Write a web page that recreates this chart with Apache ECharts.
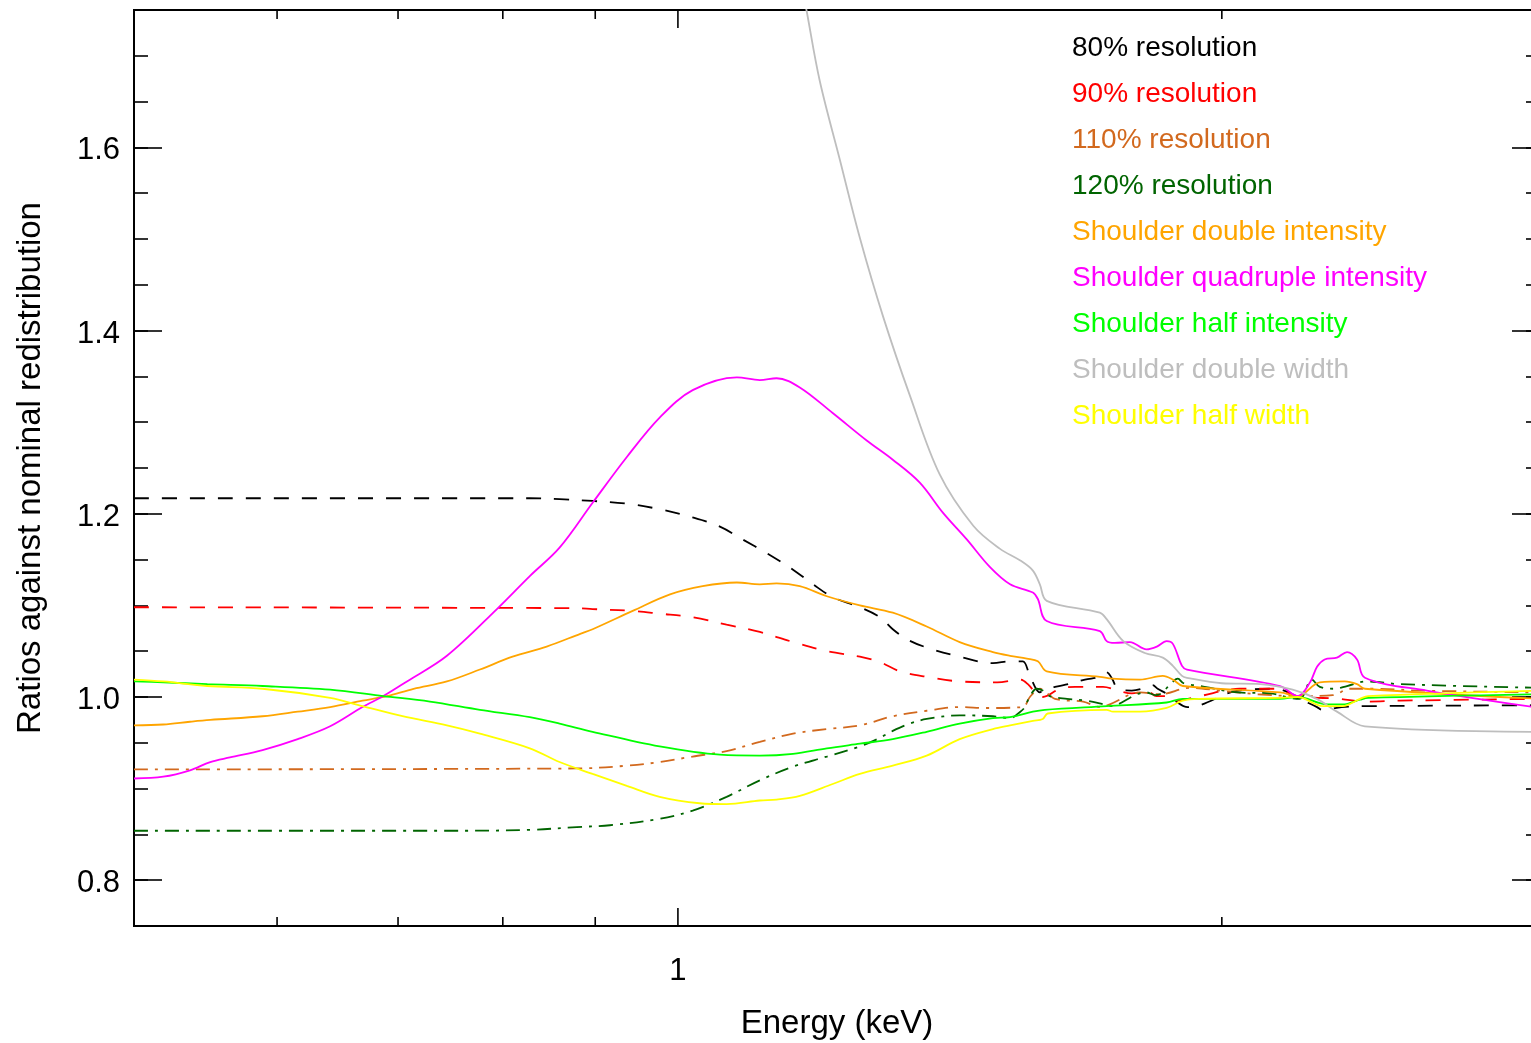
<!DOCTYPE html>
<html>
<head>
<meta charset="utf-8">
<title>Ratios against nominal redistribution</title>
<script src="https://cdn.jsdelivr.net/npm/echarts@6/dist/echarts.min.js"></script>
<style>
  html, body { margin: 0; padding: 0; background: #ffffff; }
  #chart { width: 1531px; height: 1043px; }
</style>
</head>
<body>
<div id="chart"></div>
<script>
// [energy keV, ratio] pairs for each redistribution variant
const res80 = [[0.5,1.217],[0.828,1.217],[0.86,1.216],[0.897,1.214],[0.937,1.211],[0.977,1.205],[1.019,1.196],[1.055,1.186],[1.086,1.172],[1.12,1.157],[1.158,1.139],[1.188,1.123],[1.218,1.109],[1.261,1.098],[1.294,1.087],[1.315,1.074],[1.339,1.063],[1.373,1.054],[1.432,1.044],[1.494,1.037],[1.527,1.039],[1.552,1.039],[1.566,1.023],[1.586,1.005],[1.596,1.009],[1.617,1.011],[1.652,1.015],[1.68,1.019],[1.712,1.022],[1.727,1.027],[1.739,1.020],[1.752,1.009],[1.783,1.007],[1.82,1.011],[1.831,1.013],[1.843,1.009],[1.866,1.003],[1.884,0.996],[1.915,0.989],[1.945,0.991],[2.042,1.007],[2.14,1.009],[2.189,1.003],[2.209,0.998],[2.258,0.989],[2.272,0.986],[2.33,0.989],[2.4,0.99],[3.0,0.991]];

const res90 = [[0.5,1.098],[0.879,1.097],[0.897,1.096],[0.944,1.094],[0.977,1.091],[1.019,1.087],[1.064,1.079],[1.11,1.071],[1.158,1.06],[1.209,1.05],[1.261,1.044],[1.294,1.038],[1.327,1.028],[1.373,1.022],[1.432,1.017],[1.502,1.016],[1.547,1.019],[1.562,1.014],[1.58,1.003],[1.592,1.0],[1.627,1.009],[1.659,1.011],[1.719,1.011],[1.752,1.007],[1.783,1.004],[1.82,1.006],[1.84,1.001],[1.871,1.001],[1.889,0.996],[1.945,1.001],[2.046,1.009],[2.14,1.009],[2.203,1.001],[2.324,0.998],[2.4,0.995],[2.51,0.996],[3.0,0.998]];

const res110 = [[0.5,0.921],[0.879,0.922],[0.937,0.925],[0.977,0.929],[1.019,0.935],[1.064,0.941],[1.11,0.951],[1.158,0.96],[1.209,0.965],[1.261,0.969],[1.315,0.979],[1.373,0.985],[1.432,0.989],[1.483,0.988],[1.552,0.989],[1.566,1.0],[1.586,1.009],[1.617,0.998],[1.676,0.995],[1.712,0.989],[1.734,0.992],[1.802,1.005],[1.848,1.003],[1.92,1.01],[1.995,1.007],[2.094,1.003],[2.203,1.001],[2.304,1.002],[2.355,1.009],[2.431,1.009],[2.574,1.007],[3.0,1.005]];

const res120 = [[0.5,0.854],[0.76,0.854],[0.828,0.855],[0.879,0.858],[0.917,0.86],[0.977,0.867],[1.019,0.876],[1.064,0.891],[1.11,0.909],[1.158,0.924],[1.209,0.935],[1.261,0.946],[1.289,0.954],[1.315,0.963],[1.344,0.971],[1.373,0.976],[1.432,0.98],[1.494,0.979],[1.527,0.977],[1.547,0.984],[1.556,0.989],[1.566,1.001],[1.58,1.009],[1.592,1.007],[1.606,1.001],[1.642,0.998],[1.684,0.996],[1.719,0.992],[1.734,0.99],[1.795,1.003],[1.817,1.005],[1.837,1.002],[1.852,1.004],[1.871,1.013],[1.891,1.02],[1.905,1.015],[1.945,1.012],[2.042,1.005],[2.127,1.004],[2.182,0.999],[2.209,0.998],[2.243,1.019],[2.266,1.011],[2.31,1.009],[2.346,1.012],[2.406,1.017],[2.51,1.014],[3.0,1.01]];

const shoulderDoubleIntensity = [[0.5,0.969],[0.519,0.97],[0.537,0.973],[0.551,0.975],[0.589,0.979],[0.616,0.984],[0.642,0.989],[0.669,0.996],[0.69,1.001],[0.714,1.009],[0.745,1.017],[0.777,1.03],[0.81,1.044],[0.846,1.055],[0.883,1.069],[0.897,1.074],[0.944,1.094],[0.99,1.112],[1.032,1.121],[1.078,1.125],[1.11,1.123],[1.134,1.124],[1.168,1.121],[1.209,1.11],[1.261,1.1],[1.315,1.092],[1.373,1.077],[1.432,1.06],[1.494,1.049],[1.527,1.045],[1.56,1.042],[1.582,1.039],[1.6,1.028],[1.712,1.022],[1.739,1.02],[1.802,1.019],[1.855,1.023],[1.879,1.019],[1.903,1.012],[2.154,1.005],[2.203,1.001],[2.266,1.016],[2.339,1.017],[2.376,1.014],[2.4,1.009],[3.0,0.998]];

const shoulderQuadrupleIntensity = [[0.5,0.911],[0.519,0.913],[0.537,0.92],[0.551,0.929],[0.565,0.934],[0.589,0.942],[0.616,0.954],[0.642,0.968],[0.669,0.989],[0.687,1.001],[0.708,1.017],[0.745,1.045],[0.794,1.096],[0.828,1.132],[0.86,1.163],[0.897,1.212],[0.937,1.262],[0.977,1.305],[1.019,1.335],[1.078,1.349],[1.11,1.346],[1.134,1.348],[1.168,1.338],[1.218,1.31],[1.272,1.28],[1.315,1.259],[1.361,1.234],[1.402,1.201],[1.445,1.172],[1.488,1.142],[1.527,1.123],[1.572,1.114],[1.582,1.107],[1.6,1.083],[1.712,1.072],[1.727,1.061],[1.745,1.059],[1.779,1.06],[1.817,1.052],[1.841,1.055],[1.864,1.061],[1.879,1.058],[1.901,1.034],[1.913,1.03],[2.154,1.012],[2.203,1.001],[2.238,1.016],[2.258,1.033],[2.28,1.041],[2.316,1.043],[2.346,1.049],[2.376,1.041],[2.4,1.021],[2.597,1.007],[3.0,0.988]];

const shoulderHalfIntensity = [[0.5,1.017],[0.519,1.016],[0.549,1.014],[0.589,1.012],[0.642,1.008],[0.687,1.001],[0.729,0.995],[0.777,0.986],[0.828,0.978],[0.86,0.971],[0.897,0.962],[0.977,0.946],[1.055,0.937],[1.11,0.936],[1.158,0.938],[1.209,0.944],[1.261,0.949],[1.315,0.954],[1.373,0.962],[1.432,0.971],[1.494,0.977],[1.527,0.978],[1.572,0.984],[1.596,0.986],[1.727,0.99],[1.864,0.994],[1.903,0.998],[2.154,0.998],[2.203,1.0],[2.287,0.992],[2.333,0.992],[2.385,0.997],[2.41,0.999],[3.0,1.003]];

const shoulderDoubleWidth = [[1.17,1.78],[1.178,1.75],[1.198,1.673],[1.229,1.587],[1.261,1.501],[1.299,1.415],[1.344,1.329],[1.396,1.243],[1.457,1.187],[1.507,1.162],[1.547,1.149],[1.572,1.138],[1.586,1.123],[1.6,1.105],[1.712,1.092],[1.727,1.085],[1.764,1.061],[1.813,1.048],[1.855,1.043],[1.879,1.034],[1.901,1.023],[1.913,1.021],[2.0,1.015],[2.1,1.014],[2.189,1.008],[2.257,0.998],[2.316,0.984],[2.4,0.968],[3.0,0.962]];

const shoulderHalfWidth = [[0.5,1.019],[0.519,1.017],[0.549,1.012],[0.589,1.009],[0.642,0.999],[0.669,0.99],[0.704,0.979],[0.745,0.969],[0.777,0.96],[0.828,0.944],[0.86,0.929],[0.897,0.916],[0.937,0.903],[0.977,0.891],[1.028,0.884],[1.064,0.883],[1.11,0.887],[1.134,0.888],[1.168,0.892],[1.218,0.905],[1.261,0.916],[1.315,0.925],[1.373,0.936],[1.432,0.954],[1.494,0.965],[1.527,0.969],[1.572,0.974],[1.592,0.976],[1.602,0.982],[1.727,0.986],[1.741,0.984],[1.802,0.984],[1.864,0.988],[1.903,0.996],[1.945,0.998],[2.154,0.999],[2.203,1.0],[2.275,0.99],[2.333,0.99],[2.385,0.998],[2.41,1.001],[3.0,1.007]];

const seriesNames = [
  '80% resolution', '90% resolution', '110% resolution', '120% resolution',
  'Shoulder double intensity', 'Shoulder quadruple intensity', 'Shoulder half intensity',
  'Shoulder double width', 'Shoulder half width'
];
const seriesData = [res80, res90, res110, res120, shoulderDoubleIntensity,
  shoulderQuadrupleIntensity, shoulderHalfIntensity, shoulderDoubleWidth, shoulderHalfWidth];

// axis ticks and labels
const xMajorTicks = [1];
const xMinorTicks = [0.6, 0.7, 0.8, 0.9, 2];
const xLabels = [1];
const yMajorTicks = [0.8, 1.0, 1.2, 1.4, 1.6];

// styling
const FONT = '"Liberation Sans", Arial, Helvetica, sans-serif';
const X_MIN = 0.5, X_MAX = 3, Y_MIN = 0.75, Y_MAX = 1.75, Y_MINOR_STEP = 0.05;
const seriesColors = ['#000000', '#ff0000', '#d2691e', '#006400', '#ffa500',
  '#ff00ff', '#00ff00', '#bebebe', '#ffff00'];
const DASHED = [15, 13];
const DASH_DOT = [14, 7, 3, 7];
const seriesDash = [DASHED, DASHED, DASH_DOT, DASH_DOT, 'solid', 'solid', 'solid', 'solid', 'solid'];

const lineSeries = seriesNames.map((name, i) => ({
  type: 'line',
  name: name,
  data: seriesData[i],
  xAxisIndex: 0,
  yAxisIndex: 0,
  symbol: 'none',
  showSymbol: false,
  smooth: 0.35,
  clip: true,
  silent: true,
  lineStyle: { color: seriesColors[i], width: 1.8, type: seriesDash[i] },
  itemStyle: { color: seriesColors[i] },
  emphasis: { disabled: true },
  z: 2 + i * 0.01
}));

// short inward tick marks on the bottom and top edges of the log energy axis
const tickData = xMinorTicks.map(v => [v, Y_MIN, 0]).concat(xMajorTicks.map(v => [v, Y_MIN, 1]));
const tickSeries = {
  type: 'custom',
  xAxisIndex: 0,
  yAxisIndex: 0,
  silent: true,
  z: 10,
  data: tickData,
  encode: { x: 0, y: 1 },
  renderItem: function (params, api) {
    const v = api.value(0);
    const len = api.value(2) === 1 ? 18 : 9;
    const b = api.coord([v, Y_MIN]);
    const t = api.coord([v, Y_MAX]);
    const st = { stroke: '#000', lineWidth: 1.6 };
    return {
      type: 'group',
      children: [
        { type: 'line', shape: { x1: b[0], y1: b[1], x2: b[0], y2: b[1] - len }, style: st },
        { type: 'line', shape: { x1: t[0], y1: t[1], x2: t[0], y2: t[1] + len }, style: st }
      ]
    };
  }
};

function yAxisBase(position) {
  return {
    type: 'value', min: Y_MIN, max: Y_MAX, position: position,
    splitLine: { show: false },
    axisLine: { show: false }
  };
}

const option = {
  backgroundColor: '#ffffff',
  animation: false,
  textStyle: { fontFamily: FONT },
  grid: {
    left: 134, top: 10, width: 1406, height: 916,
    outerBoundsMode: 'none',
    containLabel: false,
    show: true, borderColor: '#000', borderWidth: 2, backgroundColor: 'transparent'
  },
  legend: {
    orient: 'vertical',
    left: 1066, top: 34, padding: 0,
    itemWidth: 0, itemHeight: 0, itemGap: 18,
    selectedMode: false,
    textStyle: { fontSize: 28, lineHeight: 28, fontFamily: FONT },
    data: seriesNames.map((n, i) => ({ name: n, textStyle: { color: seriesColors[i] } }))
  },
  xAxis: [{
    type: 'log', logBase: 10, min: X_MIN, max: X_MAX, position: 'bottom',
    axisLine: { show: false },
    axisTick: { show: false },
    minorTick: { show: false },
    splitLine: { show: false },
    axisLabel: {
      formatter: v => (xLabels.some(l => Math.abs(l - v) < 1e-6) ? String(v) : ''),
      fontSize: 31, color: '#000', margin: 30, fontFamily: FONT
    },
    name: 'Energy (keV)', nameLocation: 'middle', nameGap: 81,
    nameTextStyle: { fontSize: 33, color: '#000', fontFamily: FONT }
  }],
  yAxis: [
    Object.assign(yAxisBase('left'), {
      interval: Y_MINOR_STEP,
      axisTick: { show: true, inside: true, length: 14, lineStyle: { color: '#000', width: 1.6 } },
      axisLabel: {
        customValues: yMajorTicks,
        formatter: v => '{t|' + v.toFixed(1) + '}',
        color: '#000', margin: 14, fontFamily: FONT,
        rich: {
          t: { fontSize: 31, color: '#000', fontFamily: FONT, padding: [7, 0, 0, 0] }
        }
      },
      name: 'Ratios against nominal redistribution', nameLocation: 'middle', nameGap: 87,
      nameTextStyle: { fontSize: 33, color: '#000', fontFamily: FONT }
    }),
    Object.assign(yAxisBase('left'), {
      axisTick: { show: true, inside: true, length: 28, customValues: yMajorTicks, lineStyle: { color: '#000', width: 1.6 } },
      axisLabel: { show: false }
    }),
    Object.assign(yAxisBase('right'), {
      interval: Y_MINOR_STEP,
      axisTick: { show: true, inside: true, length: 14, lineStyle: { color: '#000', width: 1.6 } },
      axisLabel: { show: false }
    }),
    Object.assign(yAxisBase('right'), {
      axisTick: { show: true, inside: true, length: 28, customValues: yMajorTicks, lineStyle: { color: '#000', width: 1.6 } },
      axisLabel: { show: false }
    })
  ],
  series: lineSeries.concat([tickSeries])
};

const chart = echarts.init(document.getElementById('chart'), null, { renderer: 'canvas' });
chart.setOption(option);
</script>
</body>
</html>
